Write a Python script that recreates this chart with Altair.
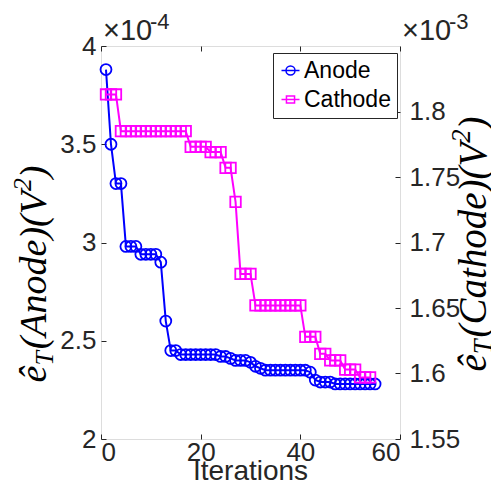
import altair as alt
import pandas as pd

# ---------------- data ----------------
anode_iter = list(range(1, 56))
anode_val = [3.88, 3.50, 3.30, 3.30, 2.98, 2.98, 2.98, 2.94, 2.94, 2.94, 2.94, 2.90, 2.60, 2.45, 2.45,
             2.43, 2.43, 2.43, 2.43, 2.43, 2.43, 2.43, 2.43, 2.42, 2.42, 2.41, 2.40, 2.40, 2.40, 2.39,
             2.37, 2.36, 2.35, 2.35, 2.35, 2.35, 2.35, 2.35, 2.35, 2.35, 2.35, 2.34, 2.30, 2.29, 2.29,
             2.29, 2.28, 2.28, 2.28, 2.28, 2.28, 2.28, 2.28, 2.28, 2.28]  # x 1e-4

cath_iter = list(range(1, 55))
cath_val = [1.813, 1.813, 1.813,
            1.785, 1.785, 1.785, 1.785, 1.785, 1.785, 1.785, 1.785, 1.785, 1.785, 1.785, 1.785, 1.785, 1.785,
            1.773, 1.773, 1.773, 1.773,
            1.769, 1.769, 1.769,
            1.757, 1.757,
            1.731,
            1.676, 1.676, 1.676,
            1.652, 1.652, 1.652, 1.652, 1.652, 1.652, 1.652, 1.652, 1.652, 1.652,
            1.628, 1.628, 1.628,
            1.615, 1.615,
            1.610, 1.610, 1.610,
            1.603, 1.603, 1.603,
            1.597, 1.597, 1.597]  # x 1e-3

series = ["Anode", "Cathode"]
colors = ["#0000ff", "#ff00ff"]
x_ticks = [0, 20, 40, 60]
left_ticks = [2, 2.5, 3, 3.5, 4]
right_ticks = [1.55, 1.6, 1.65, 1.7, 1.75, 1.8]

W, H = 299, 393
AX = "#262626"
SANS = "Liberation Sans"
SERIF = "Liberation Serif"
TICK_FS = 26

anode_df = pd.DataFrame({"it": anode_iter, "v": anode_val})
cath_df = pd.DataFrame({"it": cath_iter, "v": cath_val})

xscale = alt.Scale(domain=[0, 60], nice=False, zero=False)

anode = alt.Chart(anode_df).mark_line(
    color=colors[0], strokeWidth=2,
    point=alt.OverlayMarkDef(filled=False, shape="circle", size=120, strokeWidth=1.8, color=colors[0]),
).encode(
    x=alt.X("it:Q", scale=xscale,
            axis=alt.Axis(orient="bottom", values=x_ticks, title=None, offset=-5, tickSize=5,
                          domain=False, grid=False, labelPadding=0,
                          labelFontSize=TICK_FS, labelFont=SANS,
                          labelColor=AX, tickColor=AX)),
    y=alt.Y("v:Q", scale=alt.Scale(domain=[2, 4], nice=False, zero=False),
            axis=alt.Axis(orient="left", values=left_ticks, format=".1~f", title=None, offset=-5, tickSize=5,
                          domain=False, grid=False, labelPadding=5, labelFontSize=TICK_FS, labelFont=SANS,
                          labelColor=AX, tickColor=AX)),
)

cathode = alt.Chart(cath_df).mark_line(
    color=colors[1], strokeWidth=2,
    point=alt.OverlayMarkDef(filled=False, shape="square", size=110, strokeWidth=1.8, color=colors[1]),
).encode(
    x=alt.X("it:Q", scale=xscale,
            axis=alt.Axis(orient="top", values=x_ticks, labels=False, title=None, offset=-5, tickSize=5,
                          domain=False, grid=False, tickColor=AX)),
    y=alt.Y("v:Q", scale=alt.Scale(domain=[1.55, 1.85], nice=False, zero=False),
            axis=alt.Axis(orient="right", values=right_ticks, format=".2~f", title=None, offset=-5, tickSize=5,
                          domain=False, grid=False, labelPadding=9, labelFontSize=TICK_FS, labelFont=SANS,
                          labelColor=AX, tickColor=AX)),
)

# legend (driven by color + shape scales)
circle_path = "M-1,0H1M0.5,0A0.5,0.5,0,1,1,-0.5,0A0.5,0.5,0,1,1,0.5,0"
square_path = "M-1,0H1M-0.45,-0.4H0.45V0.4H-0.45Z"
leg_df = pd.DataFrame({"series": series})
LEG = dict(orient="none", legendX=172, legendY=7, title=None,
           strokeColor=AX, fillColor="white", padding=6,
           labelFontSize=23, labelFont=SANS, labelColor="black",
           symbolStrokeWidth=1.5, symbolSize=324, rowPadding=5,
           labelOffset=2, symbolOpacity=1)
legend_layer = alt.Chart(leg_df).mark_point(filled=False, opacity=0).encode(
    color=alt.Color("series:N", scale=alt.Scale(domain=series, range=colors), legend=alt.Legend(**LEG)),
    shape=alt.Shape("series:N", scale=alt.Scale(domain=series, range=[circle_path, square_path]),
                    legend=alt.Legend(**LEG)),
)


def txt(s, x, y, size, font=SANS, style="normal", angle=0, baseline="alphabetic", color=AX, align="left"):
    return alt.Chart(pd.DataFrame({"t": [s]})).mark_text(
        text=s, font=font, fontSize=size, fontStyle=style, angle=angle, align=align,
        baseline=baseline, color=color,
    ).encode(x=alt.value(x), y=alt.value(y))


# Times-Italic advance widths (em) used only to lay out the rotated titles
WID = {"(": .333, ")": .333, "A": .611, "C": .667, "V": .611, "T": .556, "a": .5, "d": .5,
       "e": .444, "h": .5, "n": .5, "o": .5, "t": .278, "2": .5, "ê": .444}


def wlen(s, size):
    return sum(WID.get(c, .5) for c in s) * size


def vtitle(word, xc, ycenter, S):
    sub = 0.68 * S
    parts = [("ê", S, 0), ("T", sub, 0.26 * S), ("(" + word + ")(V", S, 0), ("2", sub, -0.32 * S), (")", S, 0)]
    total = sum(wlen(p, s) for p, s, _ in parts) + 0.05 * S
    y = ycenter + total / 2
    out = []
    for p, s, dx in parts:
        out.append(txt(p, xc + dx, y, s, font=SERIF, style="italic", angle=270, baseline="middle", color="black"))
        y -= wlen(p, s) + (0.05 * S if p == "T" else 0)
    return out


texts = []
texts += [txt("×10", 2, -6, 29), txt("-4", 49, -17, 22)]
texts += [txt("×10", 301, -6, 29), txt("-3", 348, -17, 22)]
texts += [txt("Iterations", W / 2, 434, 28, align="center", baseline="alphabetic")]
texts += vtitle("Anode", -66, 228, 38)
texts += vtitle("Cathode", 373, 198, 39)

chart = alt.layer(anode, cathode, legend_layer, *texts).resolve_scale(
    y="independent"
).resolve_axis(x="independent").properties(
    width=W, height=H,
    autosize=alt.AutoSizeParams(type="none"),
    padding={"left": 93, "top": 38, "right": 91, "bottom": 46},
).configure_view(stroke=AX, strokeWidth=1.2).configure(background="white")

chart.save("out.html", embed_options={"renderer": "svg", "actions": False})
